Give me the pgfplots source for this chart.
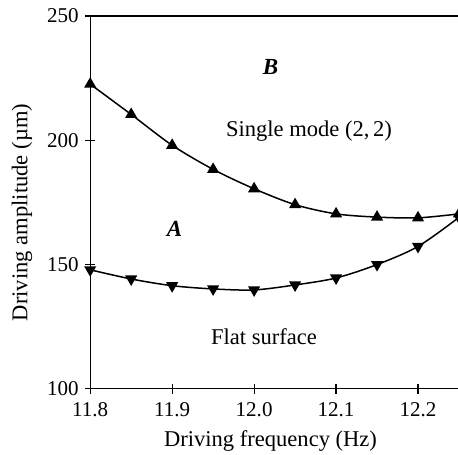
\documentclass[border=0pt]{standalone}
\usepackage{pgfplots}
\pgfplotsset{compat=1.18}
\usepackage{fontspec}
\setmainfont{Liberation Serif}
\begin{document}
\begin{tikzpicture}
\useasboundingbox (-90pt,-66pt) rectangle (367pt,388pt);
\begin{axis}[
  at={(0pt,0pt)}, anchor=south west,
  scale only axis, width=368pt, height=372pt,
  xmin=11.8, xmax=12.25, ymin=100, ymax=250,
  clip=false,
  xtick={11.8,11.9,12.0,12.1,12.2},
  xticklabels={11.8,11.9,12.0,12.1,12.2},
  ytick={100,150,200,250},
  xtick pos=left, ytick pos=left,
  xtick align=center, ytick align=center,
  major tick length=0.35cm,
  axis line style={line width=1.2pt},
  tick style={black, line width=1.2pt},
  font=\fontsize{21}{24}\selectfont,
  /pgf/number format/assume math mode=true,
  xticklabel style={yshift=-5pt},
  yticklabel style={xshift=-3pt},
  xlabel={Driving frequency (Hz)},
  ylabel={Driving amplitude (µm)},
  xlabel style={font=\fontsize{22.5}{26}\selectfont, at={(axis description cs:0.489,-0.14)}, anchor=center},
  ylabel style={font=\fontsize{22.5}{26}\selectfont, at={(axis description cs:-0.185,0.473)}, anchor=center},
]
\addplot[black, line width=1.5pt, smooth, mark=triangle*, mark size=5.5pt,
  mark options={solid}] coordinates {
  (11.80,222.6) (11.85,210.4) (11.90,198.0) (11.95,188.3) (12.00,180.5)
  (12.05,174.1) (12.10,170.4) (12.15,169.1) (12.20,168.8) (12.25,170.4)
};
\addplot[black, line width=1.5pt, smooth, mark=triangle*, mark size=5.5pt,
  mark options={solid, rotate=180}] coordinates {
  (11.80,147.9) (11.85,144.2) (11.90,141.5) (11.95,140.2) (12.00,139.8)
  (12.05,141.8) (12.10,144.6) (12.15,150.0) (12.20,157.3) (12.25,169.0)
};
\pgfplotsinvokeforeach{11.8,11.9,12.0,12.1,12.2}{
  \draw[black, line width=1.2pt] ([yshift=-5pt]axis cs:#1,100) -- ([yshift=5pt]axis cs:#1,100);
}
\pgfplotsinvokeforeach{100,150,200,250}{
  \draw[black, line width=1.2pt] ([xshift=-5pt]axis cs:11.8,#1) -- ([xshift=5pt]axis cs:11.8,#1);
}
\node[font=\fontsize{23}{26}\selectfont] at (axis cs:12.02,229.4) {\textbf{\textit{B}}};
\node[font=\fontsize{22.5}{26}\selectfont] at (axis cs:12.067,203.6) {Single mode (2,\,2)};
\node[font=\fontsize{23}{26}\selectfont] at (axis cs:11.903,164.5) {\textbf{\textit{A}}};
\node[font=\fontsize{22.5}{26}\selectfont] at (axis cs:12.012,121) {Flat surface};
\end{axis}
\end{tikzpicture}
\end{document}
